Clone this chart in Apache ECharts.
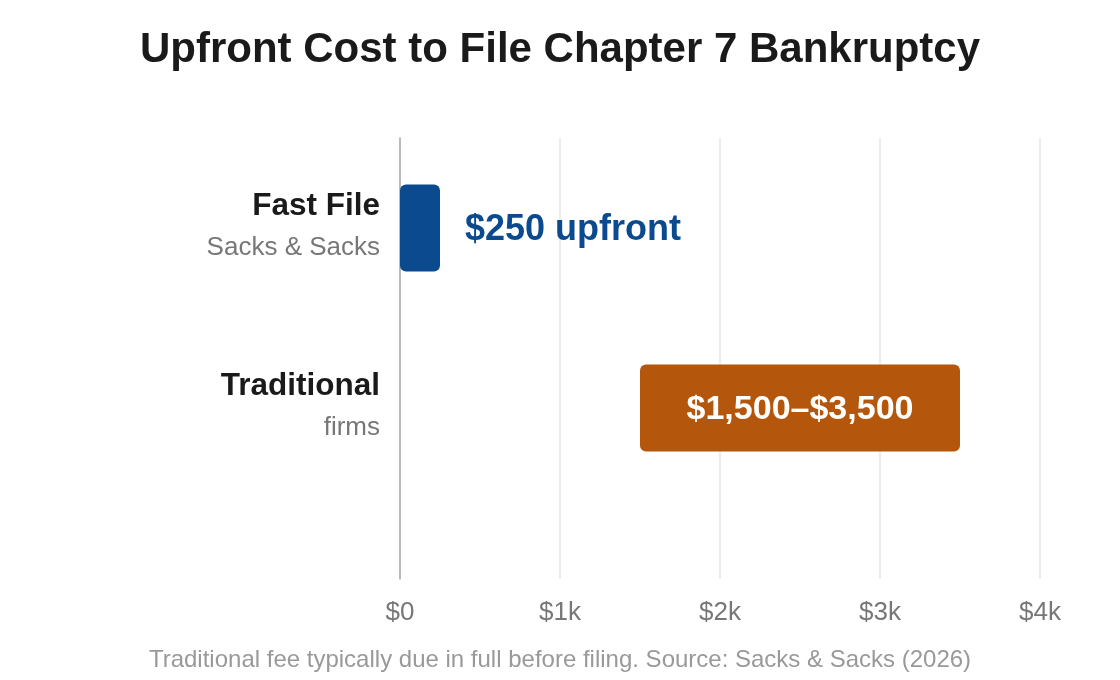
<!DOCTYPE html>
<html>
<head>
<meta charset="utf-8">
<script src="https://cdn.jsdelivr.net/npm/echarts@6/dist/echarts.min.js"></script>
<style>html,body{margin:0;padding:0;background:#fff}#c{width:1120px;height:680px}</style>
</head>
<body>
<div id="c"></div>
<script>
var categories = ['Fast File', 'Traditional'];
var subtitles = ['Sacks & Sacks', 'firms'];
var lowValues = [0, 1500];
var highValues = [250, 3500];
var barLabels = ['$250 upfront', '$1,500\u2013$3,500'];
var xTicks = ['$0', '$1k', '$2k', '$3k', '$4k'];

var FONT = '"Liberation Sans", Arial, Helvetica, sans-serif';
var barColors = ['#0b4a8e', '#b4560b'];
var labelSizes = [36, 34];

var data = categories.map(function (c, i) { return [i, lowValues[i], highValues[i]]; });

var chart = echarts.init(document.getElementById('c'));
chart.setOption({
  backgroundColor: '#fff',
  animation: false,
  title: [{
    text: 'Upfront Cost to File Chapter 7 Bankruptcy',
    left: 'center', top: 24,
    textStyle: { fontFamily: FONT, fontSize: 42, fontWeight: 'bold', color: '#1a1a1a' }
  }, {
    text: 'Traditional fee typically due in full before filing. Source: Sacks & Sacks (2026)',
    left: 'center', top: 643,
    textStyle: { fontFamily: FONT, fontSize: 24, fontWeight: 'normal', color: '#999' }
  }],
  grid: { left: 400, right: 80, top: 138, bottom: 101, containLabel: false },
  xAxis: {
    type: 'value', min: 0, max: 4000, interval: 1000,
    axisLine: { show: false }, axisTick: { show: false },
    splitLine: { show: true, lineStyle: { color: '#e6e6e6', width: 1.5 } },
    axisLabel: {
      margin: 21, fontFamily: FONT, fontSize: 26, color: '#777',
      formatter: function (v) { return xTicks[Math.round(v / 1000)]; }
    }
  },
  yAxis: {
    type: 'value', inverse: true, min: -0.5, max: 1.95, interval: 0.5,
    axisLine: { show: true, lineStyle: { color: '#aaa', width: 1.5 } },
    axisTick: { show: false }, splitLine: { show: false },
    axisLabel: {
      margin: 20, showMaxLabel: false,
      formatter: function (v) {
        var i = Math.round(v);
        if (Math.abs(v - i) > 1e-6 || i < 0 || i >= categories.length) return '';
        return '{b|' + categories[i] + '}\n{s|' + subtitles[i] + '}';
      },
      rich: {
        b: { fontFamily: FONT, fontSize: 31.5, fontWeight: 'bold', color: '#1a1a1a', align: 'right', lineHeight: 40 },
        s: { fontFamily: FONT, fontSize: 26, color: '#777', align: 'right', lineHeight: 44 }
      }
    }
  },
  series: [{
    type: 'custom',
    data: data,
    encode: { x: [1, 2], y: 0 },
    renderItem: function (params, api) {
      var idx = params.dataIndex;
      var yv = api.value(0);
      var s = api.coord([api.value(1), yv]);
      var e = api.coord([api.value(2), yv]);
      var h = api.size([0, 1])[1] * 0.483;
      var inside = idx === 1;
      return {
        type: 'group',
        children: [{
          type: 'rect',
          shape: { x: s[0], y: s[1] - h / 2, width: e[0] - s[0], height: h, r: 6 },
          style: { fill: barColors[idx] }
        }, {
          type: 'text',
          x: inside ? (s[0] + e[0]) / 2 : e[0] + 25,
          y: s[1] + 2,
          style: {
            text: barLabels[idx],
            fontFamily: FONT, fontSize: labelSizes[idx], fontWeight: 'bold',
            fill: inside ? '#fff' : barColors[idx],
            align: inside ? 'center' : 'left', verticalAlign: 'middle'
          }
        }]
      };
    }
  }]
});
</script>
</body>
</html>
